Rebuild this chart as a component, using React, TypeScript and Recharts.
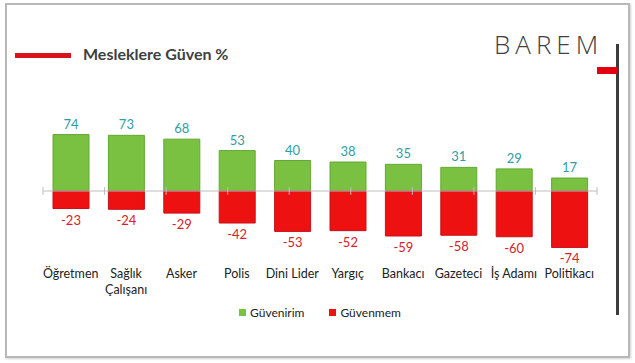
import React from 'react';
import {
  Bar,
  BarChart,
  LabelList,
  Legend,
  ReferenceLine,
  XAxis,
  YAxis,
} from 'recharts';

const categories = [
  'Öğretmen',
  'Sağlık\nÇalışanı',
  'Asker',
  'Polis',
  'Dini Lider',
  'Yargıç',
  'Bankacı',
  'Gazeteci',
  'İş Adamı',
  'Politikacı',
];
const guvenirim = [74, 73, 68, 53, 40, 38, 35, 31, 29, 17];
const guvenmem = [-23, -24, -29, -42, -53, -52, -59, -58, -60, -74];
const boundaryTicks = [0, 1, 2, 3, 4, 5, 6, 7, 8, 9, 10];

const GREEN = '#7ac142';
const RED = '#ee1111';
const FONT = 'Lato, "Open Sans", sans-serif';

const data = categories.map((name, i) => ({
  name,
  guvenirim: guvenirim[i],
  guvenmem: guvenmem[i],
}));

function CategoryTick({ x, y, payload }: any) {
  const lines = String(payload.value).split('\n');
  return (
    <text
      x={x}
      y={y}
      textAnchor="middle"
      fontSize={12.5}
      fontFamily={FONT}
      fill="#222"
    >
      {lines.map((line, i) => (
        <tspan key={i} x={x} dy={i === 0 ? 26 : 16}>
          {line}
        </tspan>
      ))}
    </text>
  );
}

// label under the bottom edge of a negative bar
function BelowLabel({ x, y, width, height, value }: any) {
  const bottom = Math.max(y, y + height);
  return (
    <text
      x={x + width / 2}
      y={bottom + 16}
      textAnchor="middle"
      fontSize={13}
      fontFamily={FONT}
      fill="#d6212b"
    >
      {value}
    </text>
  );
}

function LegendContent({ payload }: any) {
  return (
    <div
      style={{
        display: 'flex',
        justifyContent: 'center',
        gap: 25,
        fontFamily: FONT,
        fontSize: 12,
        color: '#222',
      }}
    >
      {(payload || []).map((entry: any) => (
        <div key={entry.value} style={{ display: 'flex', alignItems: 'center' }}>
          <span
            style={{
              width: 7,
              height: 7,
              background: entry.color,
              marginRight: 4,
              display: 'inline-block',
            }}
          />
          {entry.value}
        </div>
      ))}
    </div>
  );
}

export default function App() {
  return (
    <div
      style={{
        position: 'absolute',
        left: 0,
        top: 0,
        width: 635,
        height: 363,
        background: '#fff',
        fontFamily: FONT,
        overflow: 'hidden',
      }}
    >
      <div
        style={{
          position: 'absolute',
          left: 5,
          top: 3,
          width: 621,
          height: 351,
          border: '2px solid #b8b8b8',
          boxShadow: '1px 1px 2px #d0d0d0',
        }}
      />
      <div
        style={{
          position: 'absolute',
          left: 15,
          top: 53,
          width: 56,
          height: 5,
          background: '#d9121c',
        }}
      />
      <div
        style={{
          position: 'absolute',
          left: 83,
          top: 44,
          fontSize: 16,
          fontWeight: 700,
          color: '#404040',
          whiteSpace: 'nowrap',
        }}
      >
        Mesleklere Güven %
      </div>
      <div
        style={{
          position: 'absolute',
          left: 494,
          top: 26,
          fontSize: 26,
          fontWeight: 300,
          letterSpacing: 5,
          color: '#404040',
          fontFamily: '"Open Sans", sans-serif',
        }}
      >
        BAREM
      </div>
      <div
        style={{
          position: 'absolute',
          left: 616,
          top: 44,
          width: 3,
          height: 271,
          background: '#3c3c3c',
        }}
      />
      <div
        style={{
          position: 'absolute',
          left: 597,
          top: 67,
          width: 20,
          height: 7,
          background: '#e3000f',
        }}
      />
      <div style={{ position: 'absolute', left: 0, top: 0 }}>
        <BarChart
          width={635}
          height={363}
          data={data}
          stackOffset="sign"
          margin={{ top: 130, right: 38, bottom: 31, left: 43 }}
        >
          <XAxis
            dataKey="name"
            interval={0}
            axisLine={false}
            tickLine={false}
            tickSize={0}
            tickMargin={0}
            height={50}
            tick={<CategoryTick />}
          />
          <XAxis xAxisId="grid" type="number" domain={[0, 10]} hide />
          <YAxis hide domain={[-80, 80]} />
          <ReferenceLine y={0} stroke="#bdbdbd" />
          {boundaryTicks.map((t) => (
            <ReferenceLine
              key={t}
              xAxisId="grid"
              stroke="#bdbdbd"
              segment={[
                { x: t, y: -5 },
                { x: t, y: 5 },
              ]}
            />
          ))}
          <Bar
            dataKey="guvenirim"
            name="Güvenirim"
            stackId="a"
            fill={GREEN}
            stroke="#63a834"
            strokeWidth={1}
            barSize={36}
            isAnimationActive={false}
          >
            <LabelList
              dataKey="guvenirim"
              position="top"
              offset={6}
              fill="#2f9ea3"
              fontSize={13}
              fontFamily={FONT}
            />
          </Bar>
          <Bar
            dataKey="guvenmem"
            name="Güvenmem"
            stackId="a"
            fill={RED}
            stroke="#c8101a"
            strokeWidth={1}
            barSize={36}
            isAnimationActive={false}
          >
            <LabelList dataKey="guvenmem" content={<BelowLabel />} />
          </Bar>
          <Legend
            height={30}
            content={<LegendContent />}
            wrapperStyle={{ top: 305, left: 43, width: 554 }}
          />
        </BarChart>
      </div>
    </div>
  );
}
